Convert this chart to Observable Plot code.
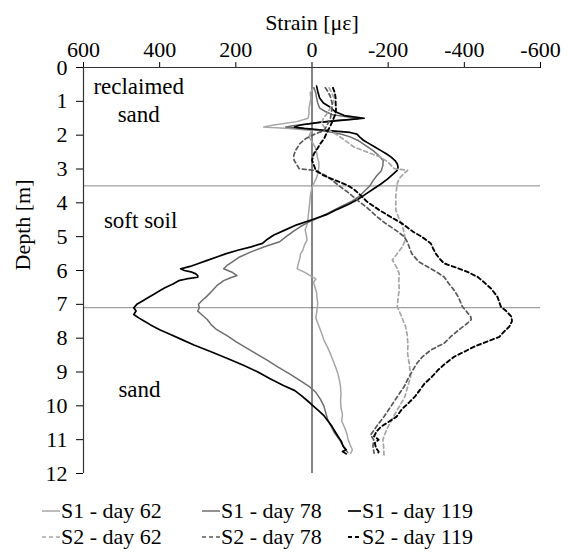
<!DOCTYPE html>
<html>
<head>
<meta charset="utf-8">
<script src="https://cdn.jsdelivr.net/npm/d3@7"></script>
<script src="https://cdn.jsdelivr.net/npm/@observablehq/plot@0.6"></script>
<style>
  html, body { margin: 0; padding: 0; background: white; }
  #wrap { width: 575px; font-family: "Liberation Serif", "Times New Roman", serif; }
  #legend { position: relative; width: 575px; height: 64px; font-size: 22px; color: black; }
  .item { position: absolute; display: flex; align-items: center; height: 26px; white-space: nowrap; }
  .item svg { display: block; margin-right: 1px; }
</style>
</head>
<body>
<div id="wrap"></div>
<script>
// ---- data: [depth (m), strain (µε)] ----
const s1Day62 = [[0.6,-5],[0.75,5],[0.9,3],[1.05,5],[1.2,8],[1.35,8],[1.5,10],[1.6,40],[1.7,100],[1.76,127],[1.8,60],[1.86,0],[1.95,5],[2.05,8],[2.2,0],[2.35,-8],[2.5,-12],[2.65,-14],[2.8,-18],[2.95,-18],[3.1,-16],[3.25,-12],[3.4,-6],[3.55,0],[3.7,3],[3.85,5],[4.0,6],[4.2,8],[4.4,10],[4.6,12],[4.8,18],[4.95,15],[5.1,13],[5.25,20],[5.4,24],[5.5,30],[5.65,32],[5.8,36],[5.95,39],[6.05,20],[6.15,5],[6.25,-10],[6.35,-4],[6.5,-8],[6.65,-12],[6.8,-13],[6.95,-15],[7.1,-14],[7.25,-12],[7.4,-10],[7.55,-15],[7.7,-20],[7.85,-25],[8.05,-31],[8.25,-40],[8.45,-48],[8.65,-55],[8.85,-62],[9.05,-68],[9.25,-72],[9.45,-75],[9.65,-76],[9.85,-75],[10.05,-76],[10.25,-80],[10.45,-78],[10.65,-86],[10.85,-92],[11.0,-95],[11.15,-100],[11.3,-106],[11.4,-102]];
const s1Day78 = [[0.6,-5],[0.75,-10],[0.9,-12],[1.05,-15],[1.2,-20],[1.3,-35],[1.4,-55],[1.47,-100],[1.52,-120],[1.57,-60],[1.65,0],[1.72,50],[1.76,69],[1.8,30],[1.86,-20],[1.92,-55],[1.98,-80],[2.05,-100],[2.15,-120],[2.3,-140],[2.45,-160],[2.6,-175],[2.75,-187],[2.9,-186],[3.05,-182],[3.2,-170],[3.35,-160],[3.5,-152],[3.65,-138],[3.8,-125],[3.95,-105],[4.1,-78],[4.25,-52],[4.4,-25],[4.55,5],[4.7,30],[4.85,50],[5.0,68],[5.15,85],[5.3,125],[5.45,160],[5.6,190],[5.75,210],[5.85,223],[5.95,232],[6.05,210],[6.15,197],[6.22,215],[6.3,232],[6.45,250],[6.6,262],[6.75,275],[6.9,290],[7.0,298],[7.1,296],[7.2,300],[7.3,290],[7.45,275],[7.6,265],[7.75,250],[7.95,220],[8.1,200],[8.25,178],[8.45,148],[8.65,118],[8.85,90],[9.05,60],[9.25,32],[9.45,5],[9.6,-10],[9.8,-22],[10.0,-31],[10.2,-36],[10.4,-41],[10.6,-50],[10.8,-59],[11.0,-72],[11.15,-80],[11.3,-88],[11.38,-94]];
const s1Day119 = [[0.55,-12],[0.7,-15],[0.9,-20],[1.05,-30],[1.15,-45],[1.3,-60],[1.42,-85],[1.5,-137],[1.55,-90],[1.62,-20],[1.7,30],[1.76,46],[1.8,20],[1.84,-20],[1.88,-60],[1.92,-100],[1.97,-118],[2.05,-125],[2.15,-135],[2.25,-150],[2.35,-165],[2.45,-180],[2.55,-195],[2.65,-208],[2.75,-218],[2.85,-224],[2.95,-226],[3.05,-223],[3.15,-213],[3.3,-198],[3.45,-180],[3.6,-160],[3.75,-140],[3.9,-120],[4.05,-95],[4.2,-65],[4.35,-38],[4.5,0],[4.65,40],[4.8,70],[4.95,100],[5.1,120],[5.2,130],[5.3,160],[5.4,195],[5.5,225],[5.6,250],[5.7,275],[5.8,300],[5.88,320],[5.95,345],[6.0,335],[6.05,315],[6.1,305],[6.15,300],[6.2,300],[6.25,330],[6.3,350],[6.4,365],[6.5,385],[6.6,400],[6.7,415],[6.8,430],[6.9,445],[7.0,460],[7.1,468],[7.2,462],[7.3,468],[7.4,455],[7.5,440],[7.6,425],[7.75,400],[7.9,370],[8.05,340],[8.2,310],[8.4,265],[8.6,222],[8.8,180],[9.0,142],[9.2,110],[9.4,75],[9.55,45],[9.7,28],[9.85,12],[10.0,-3],[10.15,-18],[10.3,-32],[10.45,-42],[10.6,-52],[10.75,-60],[10.9,-68],[11.05,-77],[11.2,-82],[11.3,-90],[11.35,-80],[11.42,-90]];
const s2Day62 = [[0.6,-45],[0.75,-52],[0.9,-58],[1.05,-55],[1.2,-48],[1.35,-40],[1.5,-30],[1.65,-25],[1.8,-35],[1.95,-60],[2.1,-80],[2.25,-98],[2.35,-110],[2.5,-145],[2.65,-180],[2.8,-200],[2.99,-216],[3.04,-251],[3.15,-240],[3.3,-228],[3.43,-224],[3.6,-222],[3.8,-220],[4.0,-220],[4.22,-220],[4.45,-228],[4.7,-238],[4.9,-242],[5.1,-245],[5.3,-237],[5.5,-224],[5.69,-211],[5.9,-222],[6.09,-229],[6.3,-228],[6.58,-229],[6.8,-226],[7.07,-224],[7.3,-233],[7.5,-240],[7.66,-246],[7.9,-250],[8.2,-252],[8.45,-251],[8.74,-255],[9.0,-258],[9.14,-259],[9.4,-252],[9.73,-244],[10.1,-225],[10.4,-210],[10.7,-196],[11.0,-186],[11.2,-188],[11.45,-189]];
const s2Day78 = [[0.6,-35],[0.68,-40],[0.85,-48],[1.07,-53],[1.25,-52],[1.47,-49],[1.65,-42],[1.86,-32],[1.98,-5],[2.1,16],[2.25,32],[2.45,43],[2.6,48],[2.74,47],[2.87,40],[2.99,34],[3.04,-5],[3.19,-36],[3.35,-55],[3.53,-75],[3.72,-98],[3.92,-119],[4.15,-145],[4.42,-172],[4.6,-192],[4.71,-207],[4.85,-225],[5.0,-242],[5.15,-250],[5.3,-255],[5.5,-262],[5.74,-280],[5.89,-303],[6.05,-328],[6.19,-347],[6.4,-360],[6.58,-373],[6.8,-385],[7.07,-395],[7.2,-405],[7.37,-417],[7.45,-418],[7.56,-408],[7.76,-385],[7.95,-365],[8.15,-347],[8.35,-312],[8.55,-290],[8.75,-275],[8.94,-265],[9.2,-252],[9.43,-242],[9.73,-224],[10.02,-207],[10.32,-189],[10.6,-170],[10.86,-154],[11.0,-162],[11.2,-160],[11.4,-163]];
const s2Day119 = [[0.6,-55],[0.75,-60],[0.9,-62],[1.05,-62],[1.2,-63],[1.37,-62],[1.55,-55],[1.71,-49],[1.9,-40],[2.1,-32],[2.25,-22],[2.4,-14],[2.55,-5],[2.74,0],[2.89,-5],[3.04,-10],[3.19,-30],[3.35,-65],[3.48,-93],[3.6,-110],[3.75,-125],[3.97,-145],[4.2,-175],[4.42,-207],[4.6,-235],[4.85,-265],[5.0,-288],[5.2,-312],[5.35,-318],[5.5,-325],[5.65,-335],[5.79,-347],[5.9,-375],[6.04,-408],[6.19,-435],[6.35,-452],[6.53,-470],[6.78,-487],[7.07,-496],[7.2,-510],[7.37,-524],[7.5,-525],[7.66,-518],[7.8,-505],[7.96,-492],[8.1,-460],[8.25,-426],[8.4,-400],[8.55,-373],[8.75,-350],[8.95,-330],[9.14,-315],[9.35,-295],[9.55,-282],[9.73,-270],[9.9,-255],[10.1,-236],[10.32,-222],[10.5,-198],[10.61,-182],[10.75,-170],[10.9,-163],[11.0,-175],[11.1,-165],[11.25,-168],[11.35,-175],[11.45,-172]];

const seriesNames = ["S1 - day 62", "S1 - day 78", "S1 - day 119", "S2 - day 62", "S2 - day 78", "S2 - day 119"];
const seriesData = [s1Day62, s1Day78, s1Day119, s2Day62, s2Day78, s2Day119];
const xTicks = [600, 400, 200, 0, -200, -400, -600];
const yTicks = [0,1,2,3,4,5,6,7,8,9,10,11,12];
const layerBounds = [3.5, 7.1];
const layerLabels = ["reclaimed\nsand", "soft soil", "sand"];
const xTitle = "Strain [με]";
const yTitle = "Depth [m]";

// styles
const styles = [
  {stroke: "#a6a6a6", dash: null, w: 1.5},
  {stroke: "#6e6e6e", dash: null, w: 1.5},
  {stroke: "#000000", dash: null, w: 1.7},
  {stroke: "#a6a6a6", dash: "4,3", w: 1.7},
  {stroke: "#595959", dash: "4,3", w: 1.7},
  {stroke: "#000000", dash: "4,3", w: 1.9}
];

const tables = seriesData.map((arr, i) => arr.map(([d, s]) => ({depth: d, strain: s, series: seriesNames[i]})));

const font = '"Liberation Serif", "Times New Roman", serif';

const chart = Plot.plot({
  width: 575,
  height: 490,
  marginTop: 67,
  marginLeft: 83,
  marginRight: 35,
  marginBottom: 17,
  style: {fontFamily: font, fontSize: "22px", background: "white", color: "black", overflow: "visible"},
  x: {domain: [600, -600], axis: "top", ticks: xTicks, tickFormat: d => String(d), tickSize: 6, tickPadding: 5, label: null},
  y: {domain: [0, 12], reverse: true, axis: "left", ticks: yTicks, tickSize: 7, tickPadding: 9, label: null},
  marks: [
    Plot.ruleY(layerBounds, {stroke: "#a0a0a0", strokeWidth: 1.3}),
    Plot.ruleX([0], {stroke: "#333", strokeWidth: 1.2}),
    Plot.ruleX([600], {stroke: "#333", strokeWidth: 1.2}),
    Plot.ruleY([0], {stroke: "#333", strokeWidth: 1.2}),
    ...tables.map((t, i) => Plot.line(t, {
      x: "strain", y: "depth",
      stroke: styles[i].stroke, strokeWidth: styles[i].w,
      strokeDasharray: styles[i].dash || undefined,
      strokeLinejoin: "round"
    })),
    Plot.text([layerLabels[0]], {x: 455, y: 0.93, text: d => d, fontSize: 23, lineHeight: 1.2, textAnchor: "middle", fill: "black"}),
    Plot.text([layerLabels[1]], {x: 450, y: 4.54, text: d => d, fontSize: 23, textAnchor: "middle", fill: "black"}),
    Plot.text([layerLabels[2]], {x: 453, y: 9.53, text: d => d, fontSize: 23, textAnchor: "middle", fill: "black"}),
    Plot.text([xTitle], {frameAnchor: "top", dy: -53, text: d => d, fontSize: 22, fill: "black"}),
    Plot.text([yTitle], {frameAnchor: "left", dx: -61, rotate: -90, text: d => d, fontSize: 22, fill: "black"})
  ]
});

const wrap = document.getElementById("wrap");
wrap.appendChild(chart);

// legend
const legend = document.createElement("div");
legend.id = "legend";
const colX = [[42, 18], [202, 18], [348, 13]];
const rowY = [8, 34];
seriesNames.forEach((name, i) => {
  const col = i % 3, row = Math.floor(i / 3);
  const item = document.createElement("div");
  item.className = "item";
  item.style.left = colX[col][0] + "px";
  item.style.top = rowY[row] + "px";
  const w = colX[col][1];
  const st = styles[i];
  item.innerHTML = `<svg width="${w}" height="10"><line x1="0" x2="${w}" y1="5" y2="5" stroke="${st.stroke}" stroke-width="${st.w}" ${st.dash ? `stroke-dasharray="${st.dash}"` : ""}/></svg><span>${name}</span>`;
  legend.appendChild(item);
});
wrap.appendChild(legend);
</script>
</body>
</html>
